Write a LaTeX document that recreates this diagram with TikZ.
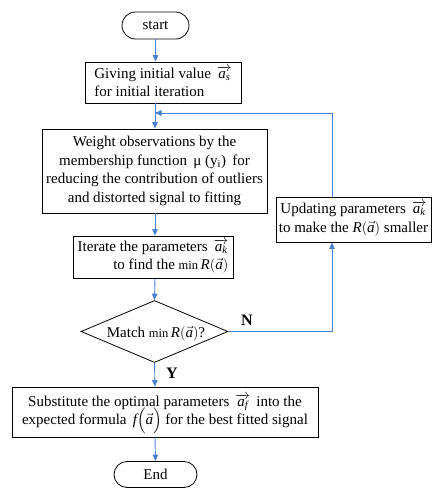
\documentclass[tikz,border=0pt]{standalone}
\usepackage{amsmath}
\usepackage{fontspec}
\setmainfont{Liberation Serif}
\usetikzlibrary{arrows.meta,shapes.geometric,shapes.misc}
\definecolor{flowblue}{RGB}{72,128,214}
% parameter vector with a long arrow over it (kept out of the line spacing)
\newcommand{\pvec}[1]{\smash{\overrightarrow{\textit{a}_{\textit{#1}}}}}
\newcommand{\avec}{\vec{\textit{a}}}
\newcommand{\minop}{{\fontsize{12.5}{14}\selectfont min}}
\newcommand{\fs}[1]{\fontsize{#1}{18.5}\selectfont}
\begin{document}
\begin{tikzpicture}[x=1pt,y=-1pt,
  every node/.style={font=\fs{15}},
  box/.style={draw=black,line width=0.8pt,rectangle,inner sep=2pt},
  term/.style={draw=black,line width=0.8pt,rounded rectangle,inner sep=0pt},
  decision/.style={draw=black,line width=0.8pt,diamond,inner sep=0pt},
  flow/.style={draw=flowblue,line width=0.9pt,-{Triangle[length=6.5pt,width=5.5pt]}},
  tag/.style={font=\fontsize{16}{18}\selectfont\bfseries}]
\useasboundingbox (0,0) rectangle (432,488);

% main column and the return path
\coordinate (spine) at (155,0);
\coordinate (turn) at (332,0);
\coordinate (loop) at (155,113);

\node[term,minimum width=67pt,minimum height=27pt] (start) at (155.5,25.5) {start};
\node[box,minimum width=156pt,minimum height=41pt,align=left] (init) at (163,82.5)
  {Giving initial value \,$\pvec{s}$\\for initial iteration};
\node[box,minimum width=225pt,minimum height=84pt,align=center] (weight) at (154.5,171)
  {Weight observations by the\\membership function \,μ (y\textsubscript{i})\, for\\reducing the contribution of outliers\\and distorted signal to fitting};
\node[box,minimum width=160pt,minimum height=42pt,align=right] (iter) at (153,257)
  {Iterate the parameters \,$\pvec{k}$\\to find the \minop\,$\textit{R}(\avec)$};
\node[decision,minimum width=147pt,minimum height=62pt] (dec) at (154.5,331.5) {};
\node at (156,333.5) {Match \minop\,$\textit{R}(\avec)$?};
\node[box,minimum width=155pt,minimum height=45pt,align=center] (upd) at (353.5,219.5)
  {Updating parameters \,$\pvec{k}$\\to make the $\textit{R}(\avec)$ smaller};
\node[box,minimum width=306pt,minimum height=50pt,align=center] (subst) at (165,412)
  {Substitute the optimal parameters \,$\pvec{f}$\, into the\\expected formula \,$\smash{\textit{f}\Bigl(\avec\Bigr)}$ for the best fitted signal};
\node[term,minimum width=83pt,minimum height=26pt] (end) at (155.5,474.5) {End};

% connectors
\draw[flow] (start.south) -- (start.south |- init.north);
\draw[flow] (spine |- init.south) -- (spine |- weight.north);
\draw[flow] (spine |- weight.south) -- (spine |- iter.north);
\draw[flow] (spine |- iter.south) -- (dec.north);
\draw[flow] (dec.south) -- (spine |- subst.north);
\draw[flow] (spine |- subst.south) -- (end.north);
\draw[flow] (dec.east) -- (dec.east -| turn) -- (turn |- upd.south);
\draw[flow] (turn |- upd.north) -- (turn |- loop) -- (loop);

\node[tag] (n) at (247,320) {N};
\node[tag] (y) at (172,373) {Y};
\end{tikzpicture}
\end{document}
